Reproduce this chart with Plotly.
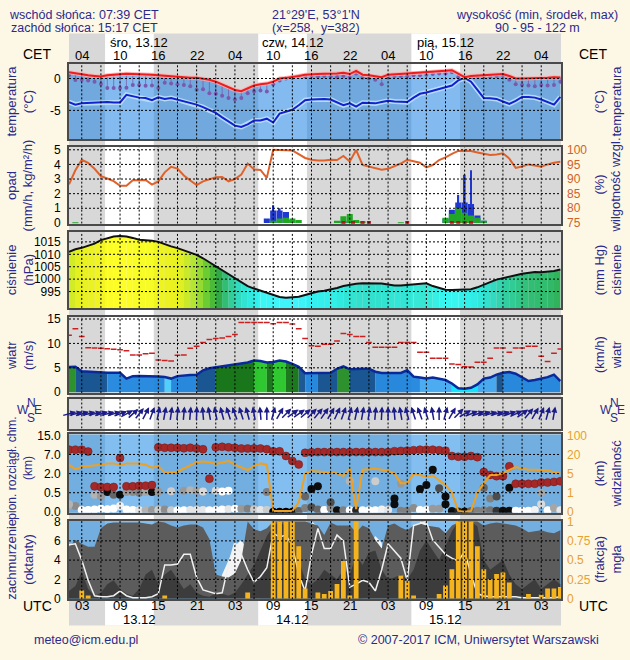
import numpy as np
import plotly.graph_objects as go
from plotly.colors import sample_colorscale

# ---------------------------------------------------------------- data
hours = list(range(1, 79))          # hours since 13.12 00 UTC

temperature = [1.0, 0.8, 0.6, 0.5, 0.4, 0.3, 0.5, 0.6, 0.7, 0.75,
               0.7, 0.7, 0.6, 0.6, 0.5, 0.4, 0.3, 0.2, 0.2, 0.1,
               0.1, 0.0, -0.2, -0.5, -0.9, -1.3, -1.8, -2.0, -1.6, -1.1,
               -0.9, -0.8, -0.5, 0.0, 0.1, 0.2, 0.4, 0.6, 0.7, 0.7,
               0.75, 0.75, 0.8, 0.9, 0.7, 1.2, 0.6, 0.5, 0.35, 0.2,
               0.6, 0.7, 0.75, 0.8, 0.85, 0.9, 1.0, 1.05, 1.1, 1.2,
               1.3, 0.8, 0.2, 0.4, 0.45, 0.5, 0.5, 0.6, 0.7, 0.4,
               0.0, 0.0, 0.0, 0.0, 0.0, 0.1, 0.2, 0.15]
dew_point = [-3.7, -4.1, -3.9, -3.85, -3.8, -3.7, -3.7, -3.75, -3.75, -2.55,
             -2.8, -3.0, -3.05, -3.4, -2.95, -3.2, -3.05, -3.3, -3.6, -3.8,
             -4.1, -4.5, -5.0, -5.4, -6.1, -6.8, -7.4, -7.6, -7.2, -6.6,
             -6.6, -6.3, -6.9, -5.5, -5.2, -4.9, -4.2, -3.4, -3.3, -3.25,
             -3.2, -3.3, -3.8, -4.2, -3.9, -4.4, -3.8, -3.9, -3.9, -3.7,
             -3.5, -3.6, -3.7, -3.7, -3.0, -2.4, -2.2, -1.9, -1.6, -1.4,
             -1.1, -0.3, 0.1, -0.5, -1.8, -3.05, -3.1, -3.2, -3.6, -4.0,
             -3.5, -2.9, -2.9, -3.0, -3.3, -3.7, -4.1, -2.9]
perceived_temp = [0.5, -0.25, -0.2, -0.3, -0.5, -0.85, -1.5, -1.5, -1.5, -1.45,
                  -1.0, -1.0, -1.15, -1.1, -1.5, -0.65, -0.8, -0.9, -1.0, -1.2,
                  -1.75, -1.7, -2.3, -2.4, -2.7, -3.05, -3.3, -3.05, -2.3, -2.0,
                  -1.9, -2.05, -0.9, -0.3, 0.0, 0.1, 0.3, 0.3, 0.4, 0.3,
                  0.4, 0.3, 0.2, 0.4, 0.1, 0.8, 0.1, 0.0, -0.2, -0.9,
                  0.3, 0.4, 0.4, 0.4, 0.5, 0.5, 0.6, 0.7, 0.8, 0.8,
                  1.0, 0.2, 0.0, 0.2, 0.3, 0.4, 0.3, 0.4, 0.5, -0.2,
                  -0.9, -1.0, -1.1, -1.2, -1.0, -1.1, -1.0, -0.5]

humidity = [88.2, 93.0, 96.6, 95.5, 93.5, 91.0, 90.2, 89.3, 87.7, 87.7,
            89.6, 89.7, 89.7, 88.1, 89.2, 92.3, 94.2, 93.6, 91.2, 89.5,
            87.9, 89.2, 89.9, 90.6, 90.7, 89.2, 90.0, 91.5, 95.3, 93.3,
            93.1, 90.4, 100, 100, 100, 99.8, 98.5, 97.2, 96.6, 96.3,
            96.3, 96.6, 96.5, 97.9, 96.0, 99.9, 94.8, 94.2, 93.8, 93.2,
            93.5, 94.5, 95.3, 96.6, 96.2, 95.6, 94.0, 94.8, 96.5, 97.4,
            98.6, 99.6, 99.7, 99.6, 99.1, 98.6, 98.2, 98.4, 98.8, 97.0,
            93.8, 94.3, 95.0, 94.6, 94.2, 95.0, 95.6, 95.9]
precip_blue_hours = [32, 33, 34, 35, 36, 44, 45, 60, 61, 62, 63, 64, 65, 66]
precip_blue = [0.3, 0.85, 0.85, 0.75, 0.2, 0.1, 0.15, 0.3, 0.9, 1.4, 1.4, 1.3, 0.5, 0.15]
precip_peak_hours = [33, 34, 62, 63, 64]
precip_peak = [1.2, 1.0, 1.9, 3.3, 3.6]
precip_green_hours = [2, 33, 34, 35, 36, 37, 43, 44, 45, 46, 47, 53,
                      60, 61, 62, 63, 64, 65, 66]
precip_green = [0.05, 0.15, 0.3, 0.35, 0.3, 0.2, 0.15, 0.45, 0.6, 0.2, 0.1, 0.05,
                0.35, 0.6, 1.0, 0.7, 0.5, 0.35, 0.15]
snow_hours = [44, 45.5, 47, 48, 54, 61, 62, 63, 64]

pressure = [1011.0, 1012.0, 1012.6, 1013.3, 1014.3, 1015.7, 1016.4, 1017.2, 1017.4, 1017.2,
            1016.6, 1015.9, 1015.7, 1015.5, 1015.0, 1014.0, 1013.2, 1012.5, 1011.6, 1010.8,
            1009.8, 1008.4, 1006.8, 1005.3, 1003.6, 1001.9, 1000.2, 998.6, 997.2, 996.2,
            995.3, 994.4, 993.4, 992.8, 992.5, 992.6, 992.9, 993.6, 994.3, 995.0,
            995.3, 995.7, 996.4, 997.2, 997.8, 998.1, 998.3, 998.3, 998.3, 998.2,
            997.8, 997.4, 997.4, 997.6, 997.9, 998.1, 998.3, 997.2, 996.3, 995.7,
            995.6, 995.6, 995.7, 995.9, 996.7, 997.6, 998.8, 999.8, 1000.5, 1001.1,
            1001.6, 1002.2, 1002.7, 1002.9, 1002.8, 1002.9, 1003.3, 1003.9]

wind = [5.15, 5.2, 4.3, 4.2, 4.15, 4.0, 4.0, 4.0, 4.0, 2.8,
        3.3, 3.35, 3.35, 3.35, 3.2, 3.1, 2.8, 3.3, 3.5, 3.55,
        3.6, 4.5, 4.9, 5.1, 5.3, 5.4, 5.6, 5.8, 6.1, 6.5,
        6.4, 6.1, 6.2, 6.5, 6.3, 5.8, 5.2, 3.9, 3.9, 4.0,
        4.0, 4.0, 4.8, 5.3, 4.7, 4.8, 4.8, 4.8, 4.2, 3.95,
        3.95, 3.95, 3.95, 4.5, 3.2, 3.0, 2.8, 3.0, 2.8, 2.5,
        1.8, 0.8, 0.7, 0.9, 1.6, 2.8, 3.0, 3.6, 4.0, 4.15,
        3.8, 3.0, 2.3, 2.5, 2.8, 3.1, 3.6, 2.3]
gusts = [11.65, 13.0, 11.4, 9.1, 9.05, 9.0, 8.9, 8.8, 8.7, 8.5,
         7.65, 7.65, 7.9, 8.0, 6.6, 6.5, 6.4, 7.6, 7.65, 9.0,
         9.4, 10.2, 10.8, 11.0, 11.1, 11.4, 11.85, 14.3, 14.3, 14.3,
         14.3, 14.3, 14.05, 14.3, 14.3, 14.0, 13.0, 11.0, 9.5, 9.4,
         9.85, 9.85, 10.5, 12.05, 11.85, 11.4, 11.4, 10.2, 9.2, 9.2,
         9.2, 9.2, 10.2, 10.2, 10.2, 8.2, 8.2, 6.95, 6.95, 6.95,
         5.8, 5.7, 5.2, 5.15, 6.15, 6.15, 6.95, 9.05, 9.05, 8.2,
         9.05, 9.05, 9.4, 9.4, 7.35, 6.3, 8.0, 8.85]
wind_class = ['g', 'db', 'db', 'db', 'db', 'db', 'b', 'b', 'b', 'b',
              'b', 'b', 'b', 'b', 'b', 'lc', 'b', 'b', 'b', 'b',
              'db', 'db', 'db', 'dg', 'dg', 'dg', 'dg', 'dg', 'dg', 'bg',
              'bg', 'dg', 'bg', 'bg', 'dg', 'dg', 'db', 'b', 'b', 'db',
              'db', 'db', 'g', 'g', 'db', 'db', 'db', 'db', 'b', 'b',
              'b', 'b', 'b', 'b', 'b', 'lb', 'lb', 'lb', 'lb', 'lb',
              'c', 'c', 'c', 'c', 'lb', 'lb', 'lb', 'db', 'b', 'b',
              'b', 'b', 'b', 'b', 'b', 'b', 'b', 'b']
wind_dir = [75, 75, 74, 76, 75, 74, 75, 73, 70, 62,
            48, 38, 28, 20, 12, 10, 8, 6, 5, 5,
            2, 355, 350, 348, 345, 342, 340, 342, 345, 350,
            355, 0, 15, 30, 45, 55, 55, 50, 45, 40,
            35, 30, 25, 20, 15, 12, 10, 8, 5, 3,
            0, 355, 350, 345, 342, 340, 343, 350, 0, 15,
            30, 45, 60, 68, 72, 74, 75, 75, 74, 72,
            65, 55, 40, 30, 22, 15, 10, 5]

cloud_top_km = [9, 9, 9, 8.2, 1.0, 0.95, 0.95, 0.95, 6.1, 1.0,
                1.0, 1.05, 1.05, 1.1, 10, 9.8, 9.8, 9.8, 9.6, 9.8,
                9.5, 9.2, 1.6, 10, 10.2, 10, 9.8, 9.5, 9.5, 9.5,
                9.5, 9.2, 8.3, 8.3, 6.6, 5.3, 4.4, 7.7, 7.9, 8.0,
                8, 8, 8, 8, 8, 8, 8, 8, 8, 8,
                8, 8.4, 8.5, 8.6, 8.8, 9, 9, 9, 8.8, 8.6,
                6.6, 6.4, 6.4, 6.6, 6.3, 2.4, 1.9, 1.8, 1.8, 3.9,
                1.2, 1.2, 1.2, 1.2, 1.3, 1.3, 1.35, 1.4]
low_layer_km = [0.15, 0.15, 0.05, 0.05, 0.06, 0.08, 0.07, 0.09, 0.15, 0.06,
                0.05, 0.04, 0.04, 0.05, 0.05, 0.06, 0.04, 0.04, 0.04, 0.05,
                0.05, 0.05, 0.04, 0.05, 0.06, 0.07, 0.08, 0.08, 0.08, 0.06,
                0.05, 0.05, 0.0, 0.0, 0.0, 0.0, 0.02, 0.1, 0.12, 0.06,
                0.05, 0.1, 0.04, 0.04, 0.04, 0.04, 0.04, 0.04, 0.04, 0.06,
                0.05, 0.2, 0.03, 0.03, 0.1, 0.05, 0.05, 0.08, 0.08, 0.2,
                0.02, 0.01, 0.01, 0.02, 0.03, 0.04, 0.04, 0.03, 0.03, 0.03,
                0.03, 0.03, 0.03, 0.05, 0.2, 0.04, 0.1, 0.04]
low_layer_dark = [0.35, 0.45, 0.0, 0.0, 0.0, 0.0, 0.0, 0.0, 0.05, 0.0,
                  0.0, 0.1, 0.3, 0.4, 0.2, 0.45, 0.2, 0.0, 0.0, 0.1,
                  0.1, 0.1, 0.0, 0.0, 0.0, 0.1, 0.0, 0.4, 0.5, 0.2,
                  0.1, 0.2, 1.0, 1.0, 1.0, 1.0, 0.6, 0.5, 0.7, 0.6,
                  0.0, 0.45, 0.95, 0.5, 0.0, 0.85, 0.0, 0.0, 0.0, 0.05,
                  0.1, 0.95, 0.5, 0.5, 0.45, 0.0, 0.0, 0.4, 0.4, 0.95,
                  0.95, 0.85, 0.95, 0.6, 0.5, 0.5, 0.55, 0.8, 0.95, 0.95,
                  0.0, 0.0, 0.0, 0.05, 0.15, 0.0, 0.35, 0.1]
mid_layer_hours = [1, 5, 6, 7, 8, 9, 10, 11, 12, 13, 14, 15, 17, 19, 20, 21, 22, 24, 25, 26,
                   32, 38, 39, 40, 42, 45, 49, 52, 53, 56, 57, 58, 59, 60, 66, 67, 68, 70, 75]
mid_layer_km = [0.2, 0.45, 0.4, 0.55, 0.45, 0.45, 0.55, 0.55, 0.5, 0.55,
                0.55, 0.6, 0.62, 0.65, 0.7, 0.65, 0.6, 0.65, 0.6, 0.65,
                0.55, 0.4, 0.8, 1.0, 0.25, 1.4, 1.4, 0.35, 1.2, 0.8,
                1.1, 3.0, 0.85, 0.4, 0.9, 0.35, 0.4, 0.9, 0.5]
mid_layer_dark = [0.3, 0.3, 0.4, 0.95, 0.6, 0.95, 0.4, 0.45, 0.5, 0.35,
                  0.95, 0.4, 0.2, 0.4, 0.3, 0.35, 0.15, 0.15, 0.0, 0.0,
                  0.5, 0.6, 0.95, 0.95, 0.7, 0.3, 0.2, 0.95, 0.4, 0.95,
                  0.95, 0.95, 0.7, 0.95, 0.6, 0.5, 0.7, 0.95, 0.35]
visibility_km = [12, 8.3, 10.4, 10.9, 11.5, 12, 13, 13, 11.5, 13,
                 13, 13, 12, 9.7, 10.9, 5.8, 5.8, 6.5, 9, 11.5,
                 14, 14.5, 14, 12.5, 13.5, 14.8, 12, 10, 7.8, 11,
                 13, 12, 0.05, 0.05, 0.05, 0.05, 0.5, 5, 7.1, 6.8,
                 6.5, 5.8, 5.2, 4.5, 8.9, 0.14, 8.0, 8.4, 8.8, 8.0,
                 7.1, 5.0, 3.0, 3.0, 5.0, 4.7, 4.3, 4.6, 3.5, 2.6,
                 1.0, 0.05, 0.0, 0.05, 1.0, 3.0, 4.7, 4.7, 5.5, 7.5,
                 10.1, 9, 8, 8, 8, 7.5, 6, 5]
height_ticks_km = [0.0, 0.5, 2.0, 7.0, 15.0]
visibility_ticks_km = [0, 1, 5, 20, 100]

cloud_total = [5.4, 6.1, 5.7, 5.4, 5.4, 7.3, 7.8, 7.9, 7.9, 7.9,
               7.9, 7.9, 7.8, 7.7, 8, 7.9, 7.6, 7.4, 7.6, 7.7,
               7.7, 7.4, 6.2, 2.5, 2.3, 2.2, 2.6, 4.0, 8.0, 7.2,
               7.0, 7.3, 8, 8, 8, 8, 8, 8, 7.8, 7.6,
               6.6, 7.9, 7.6, 7.6, 7.6, 6.9, 7.6, 7.3, 6.1, 5.2,
               7.6, 7.8, 7.4, 7.1, 7.6, 7.8, 7.6, 7.5, 7.4, 6.8,
               7.6, 7.9, 8, 8, 8, 7.6, 7.8, 7.9, 7.8, 7.7,
               7.6, 7.3, 6.9, 7.0, 7.1, 6.9, 6.8, 7.1]
cloud_low = [0.8, 1.3, 2.8, 1.0, 0.3, 0.6, 1.5, 1.9, 1.0, 0.5,
             0.3, 1.0, 2.5, 3.0, 1.5, 2.5, 3.0, 2.0, 1.0, 1.5,
             0.6, 0.3, 0.2, 0.5, 0.5, 0.3, 0.6, 1.5, 2.5, 3.5,
             5.0, 6.5, 7.5, 8.0, 7.5, 5.0, 4.0, 2.0, 1.5, 2.0,
             3.0, 2.5, 2.0, 3.0, 2.5, 4.5, 3.5, 4.8, 5.0, 3.0,
             2.0, 2.2, 2.5, 2.0, 3.0, 5.0, 6.0, 5.0, 4.0, 5.5,
             7.0, 8.0, 8.0, 8.0, 7.5, 4.0, 3.0, 3.5, 4.0, 2.5,
             1.5, 1.0, 1.5, 2.0, 1.0, 1.5, 2.0, 1.5]
cloud_high = [0, 0, 0, 0, 0, 0, 0, 0, 0, 0,
              0, 0, 0, 0, 0, 0, 0, 0, 0, 0,
              0, 0, 0, 0, 2.5, 4.0, 5.5, 6.1, 5.0, 2.0,
              0, 0, 0, 0, 0, 0, 0, 7.0, 8.0, 7.5,
              0, 0, 0, 0, 0, 0, 0, 5.5, 6.5, 5.8,
              0, 0, 0, 0, 0, 8.0, 7.8, 0, 0, 0,
              0, 0, 0, 0, 0, 0, 0, 0, 0, 0,
              0, 0, 0, 0, 0, 0, 0, 0]
cloud_line = [5.6, 5.7, 4.0, 1.9, 0.3, 0.2, 0.2, 0.3, 0.8, 0.3,
              0.1, 0.1, 0.1, 0.2, 0.5, 3.5, 3.5, 3.6, 4.6, 4.6,
              2.2, 0.9, 0.7, 0.5, 0.6, 3.5, 5.9, 4.6, 3.0, 1.7,
              2.3, 3.2, 6.8, 6.4, 6.6, 5.5, 2.5, 0.8, 4.6, 7.3,
              5.2, 5.2, 6.6, 6.0, 1.2, 1.5, 1.9, 1.7, 0.8, 3.0,
              5.7, 5.0, 4.2, 1.9, 7.6, 7.8, 8.0, 6.1, 5.3, 4.6,
              4.2, 3.9, 4.9, 2.5, 0.5, 0.3, 0.2, 0.2, 0.2, 0.2,
              0.2, 0.1, 0.1, 0.1, 0.1, 0.1, 0.1, 0.2]
fog = [0, 0, 0.105, 0.04, 0, 0, 0, 0, 0, 0,
       0, 0, 0, 0, 0, 0.04, 0, 0, 0, 0,
       0, 0, 0, 0, 0, 0, 0, 0, 0.08, 0,
       0, 0, 1.0, 1.0, 1.0, 1.0, 0.68, 0.13, 0, 0.08,
       0.06, 0.1, 0.19, 0.49, 0.04, 1.0, 0, 0, 0, 0,
       0, 0, 0.3, 0.23, 0.04, 0, 0, 0, 0.06, 0.17,
       0.38, 1.0, 1.0, 1.0, 0.68, 0.38, 0.25, 0.32, 0.34, 0.21,
       0, 0, 0.06, 0, 0.05, 0.13, 0.13, 0.15]

sunrise_cet, sunset_cet = "07:39", "15:17"
header_left = ["wschód słońca: 07:39 CET", "zachód słońca: 15:17 CET"]
header_mid = ["21°29'E, 53°1'N", "(x=258,  y=382)"]
header_right = ["wysokość (min, środek, max)", "90 - 95 - 122 m"]
day_labels_top = ["śro, 13.12", "czw, 14.12", "pią, 15.12"]
day_labels_bottom = ["13.12", "14.12", "15.12"]
footer_left = "meteo@icm.edu.pl"
footer_right = "© 2007-2017 ICM, Uniwersytet Warszawski"

# ---------------------------------------------------------------- layout geometry
W, H = 630, 660
PX0, PX1 = 69, 561
XR = [1.0, 78.1]
BG = "#fdf8e6"
NIGHT = "#d8d8d8"
FRAME = "#4a4a4a"
NAVY = "#2a2a8c"
FONT = "Liberation Sans, Arial, sans-serif"


def xp(px):
    return px / W


def yp(px):
    return 1 - px / H


def hx(h):  # hour -> paper x
    return xp(PX0 + (h - XR[0]) / (XR[1] - XR[0]) * (PX1 - PX0))


PANELS = [
    (59, 136, [-9.54, 2.3]),
    (144, 222, [-0.05, 5.18]),
    (231, 308, [988.4, 1018.8]),
    (317, 395, [-0.2, 15.46]),
    (401, 431, [-1, 1]),
    (437, 517, [-0.05, 4.05]),
    (525, 605, [-0.05, 8.1]),
]


def ax(i):
    return ("x" if i == 1 else f"x{i}", "y" if i == 1 else f"y{i}")


fig = go.Figure()


def add(tr, i, yname=None):
    xn, yn = ax(i)
    tr.update(xaxis=xn, yaxis=yname or yn, showlegend=False, hoverinfo="skip")
    fig.add_trace(tr)


# ---------------- panel 1 : temperature
trng = PANELS[0][2]
add(go.Scatter(x=hours, y=[trng[0]] * len(hours), mode="lines", line=dict(width=0)), 1)
add(go.Scatter(x=hours, y=temperature, mode="lines", line=dict(width=0),
               fill="tonexty", fillcolor="rgba(30,130,225,0.55)"), 1)
add(go.Scatter(x=hours, y=dew_point, mode="lines",
               line=dict(color="rgba(190,225,255,0.9)", width=5)), 1)
add(go.Scatter(x=hours, y=dew_point, mode="lines", line=dict(color="#1222cc", width=2)), 1)
sx, sy = [], []
for h, t, p in zip(hours, temperature, perceived_temp):
    sx += [h, h, None]
    sy += [t, p, None]
add(go.Scatter(x=sx, y=sy, mode="lines", line=dict(color="rgba(120,85,170,0.7)", width=1)), 1)
add(go.Scatter(x=hours, y=perceived_temp, mode="markers",
               marker=dict(color="#7a5aae", size=4)), 1)
add(go.Scatter(x=hours, y=temperature, mode="lines",
               line=dict(color="rgba(255,170,170,0.8)", width=4)), 1)
add(go.Scatter(x=hours, y=temperature, mode="lines", line=dict(color="#ee1c1c", width=2)), 1)

# ---------------- panel 2 : precipitation + humidity
add(go.Bar(x=precip_blue_hours, y=precip_blue, width=0.95, marker=dict(color="#2038d0", line=dict(width=0))), 2)
add(go.Bar(x=precip_peak_hours, y=precip_peak, width=0.3, marker=dict(color="#2038d0", line=dict(width=0))), 2)
add(go.Bar(x=precip_green_hours, y=precip_green, width=0.95, marker=dict(color="#20a825", line=dict(width=0))), 2)
add(go.Scatter(x=snow_hours, y=[0] * len(snow_hours), mode="markers",
               marker=dict(color="#b01818", size=4, symbol="square")), 2)
add(go.Scatter(x=hours, y=humidity, mode="lines", line=dict(color="#e0622a", width=2)), 2, "y9")

# ---------------- panel 3 : pressure
PRESS_SCALE = [[0.0, "rgb(40,235,255)"], [0.2, "rgb(20,245,240)"], [0.33, "rgb(20,220,190)"],
               [0.43, "rgb(20,195,120)"], [0.52, "rgb(20,160,40)"], [0.62, "rgb(80,200,20)"],
               [0.72, "rgb(170,230,20)"], [0.8, "rgb(235,245,0)"], [1.0, "rgb(255,255,0)"]]
PMIN, PMAX = 990.0, 1018.0
for i in range(len(hours) - 1):
    pm = (pressure[i] + pressure[i + 1]) / 2
    c = sample_colorscale(PRESS_SCALE, [(pm - PMIN) / (PMAX - PMIN)])[0]
    c = c.replace("rgb(", "rgba(").replace(")", ",0.85)")
    add(go.Scatter(x=hours[i:i + 2], y=pressure[i:i + 2], mode="lines",
                   line=dict(width=0), fill="tozeroy", fillcolor=c), 3)
add(go.Scatter(x=hours, y=pressure, mode="lines", line=dict(color="#111111", width=2)), 3)

# ---------------- panel 4 : wind
WIND_COL = {"g": "rgba(30,140,30,0.92)", "dg": "rgba(10,110,10,0.92)", "bg": "rgba(30,195,30,0.92)",
            "db": "rgba(10,75,140,0.92)", "b": "rgba(25,130,220,0.92)", "lb": "rgba(60,165,240,0.92)",
            "lc": "rgba(70,205,255,0.92)", "c": "rgba(0,230,255,0.92)"}
start = 0
for i in range(1, len(hours)):
    if i == len(hours) - 1 or wind_class[i] != wind_class[start]:
        end = i
        add(go.Scatter(x=hours[start:end + 1], y=wind[start:end + 1], mode="lines",
                       line=dict(width=0), fill="tozeroy",
                       fillcolor=WIND_COL[wind_class[start]]), 4)
        start = i
gx, gy = [], []
for h, g in zip(hours, gusts):
    gx += [h - 0.45, h + 0.45, None]
    gy += [g, g, None]
add(go.Scatter(x=gx, y=gy, mode="lines", line=dict(color="#cc2020", width=1.5)), 4)
add(go.Scatter(x=hours, y=wind, mode="lines", line=dict(color="#0a2a9a", width=2.5)), 4)

# ---------------- panel 6 : cloud levels + visibility
def hpos(v):
    return np.interp(v, height_ticks_km, [0, 1, 2, 3, 4])


GRAY = [[0, "#ffffff"], [1, "#000000"]]
add(go.Scatter(x=hours, y=hpos(low_layer_km), mode="markers",
               marker=dict(size=8, color=low_layer_dark, colorscale=GRAY, cmin=0, cmax=1)), 6)
add(go.Scatter(x=mid_layer_hours, y=hpos(mid_layer_km), mode="markers",
               marker=dict(size=8, color=mid_layer_dark, colorscale=GRAY, cmin=0, cmax=1)), 6)
add(go.Scatter(x=hours, y=hpos(cloud_top_km), mode="markers",
               marker=dict(size=8, color="#a52828", line=dict(width=0.5, color="#701818"))), 6)
add(go.Scatter(x=hours, y=np.interp(visibility_km, visibility_ticks_km, [0, 1, 2, 3, 4]),
               mode="lines", line=dict(color="#f0a020", width=2)), 6, "y12")

# ---------------- panel 7 : cloud cover + fog
add(go.Scatter(x=hours, y=cloud_high, mode="lines", line=dict(width=0),
               fill="tozeroy", fillcolor="#f4f4f4"), 7)
add(go.Scatter(x=hours, y=cloud_total, mode="lines", line=dict(width=0),
               fill="tozeroy", fillcolor="#5c5c5c"), 7)
add(go.Scatter(x=hours, y=cloud_low, mode="lines", line=dict(width=0),
               fill="tozeroy", fillcolor="#3c3c3c"), 7)
add(go.Scatter(x=hours, y=cloud_line, mode="lines", line=dict(color="#f0f0f0", width=1.5)), 7)
add(go.Bar(x=hours, y=fog, width=0.75, marker=dict(color="#f5b41e", line=dict(width=0))), 7, "y13")

# ---------------- grids (on top)
GRID_H = list(range(3, 78, 3))
grid_spec = {1: ("y", PANELS[0][2], [0, -5]),
             2: ("y9", [74.75, 100.9], [80, 85, 90, 95, 100]),
             3: ("y3", PANELS[2][2], [995, 1000, 1005, 1010, 1015]),
             4: ("y4", PANELS[3][2], [5, 10, 15]),
             5: ("y5", PANELS[4][2], []),
             6: ("y12", PANELS[5][2], [1, 2, 3]),
             7: ("y13", [-0.05 / 8, 8.1 / 8], [0.25, 0.5, 0.75])}
for i, (yn, yr, hv) in grid_spec.items():
    xs, ys = [], []
    for g in GRID_H:
        xs += [g, g, None]
        ys += [yr[0], yr[1], None]
    for v in hv:
        xs += [XR[0], XR[1], None]
        ys += [v, v, None]
    add(go.Scatter(x=xs, y=ys, mode="lines",
                   line=dict(color="black", width=1, dash="2px,2px")), i, yn)

# ---------------- axes
layout = dict(width=W, height=H, margin=dict(l=0, r=0, t=0, b=0), autosize=False,
              paper_bgcolor=BG, plot_bgcolor="rgba(0,0,0,0)", showlegend=False,
              barmode="overlay", font=dict(family=FONT, size=12, color="black"))
left_ticks = {1: ([0, -5], ["0", "-5"]),
              2: ([0, 1, 2, 3, 4, 5], ["0", "1", "2", "3", "4", "5"]),
              3: ([995, 1000, 1005, 1010, 1015], ["995", "1000", "1005", "1010", "1015"]),
              4: ([0, 5, 10, 15], ["0", "5", "10", "15"]),
              5: ([], []),
              6: ([0, 1, 2, 3, 4], [f"{v:.1f}" for v in height_ticks_km]),
              7: ([0, 2, 4, 6, 8], ["0", "2", "4", "6", "8"])}
for i, (top, bot, rng) in enumerate(PANELS, start=1):
    xn, yn = ax(i)
    layout["xaxis" if i == 1 else f"xaxis{i}"] = dict(
        domain=[xp(PX0), xp(PX1)], range=XR, anchor=yn, showticklabels=False,
        showgrid=False, zeroline=False, showline=True, mirror=True,
        linecolor=FRAME, linewidth=2, ticks="", fixedrange=True)
    tv, tt = left_ticks[i]
    layout["yaxis" if i == 1 else f"yaxis{i}"] = dict(
        domain=[yp(bot), yp(top)], range=rng, anchor=xn, showgrid=False, zeroline=False,
        showline=True, mirror=True, linecolor=FRAME, linewidth=2, ticks="",
        tickvals=tv, ticktext=tt, showticklabels=bool(tv), ticklabelstandoff=4,
        tickfont=dict(size=12, color="black"), fixedrange=True)


def overlay(name, base, xn, rng, tv, tt, color="black"):
    layout[name] = dict(overlaying=base, anchor=xn, side="right", range=rng,
                        showgrid=False, zeroline=False, showline=False, ticks="",
                        tickvals=tv, ticktext=tt, ticklabelstandoff=5,
                        tickfont=dict(size=12, color=color), fixedrange=True)


overlay("yaxis8", "y", "x", PANELS[0][2], [0, -5], ["0", "-5"])
overlay("yaxis9", "y2", "x2", [74.75, 100.9], [75, 80, 85, 90, 95, 100],
        ["75", "80", "85", "90", "95", "100"], "#d2602a")
overlay("yaxis10", "y3", "x3", PANELS[2][2], [995, 1000, 1005, 1010, 1015],
        [str(round(v * 0.750062)) for v in [995, 1000, 1005, 1010, 1015]])
overlay("yaxis11", "y4", "x4", PANELS[3][2], [0, 5, 10, 15],
        [str(round(v * 3.6)) for v in [0, 5, 10, 15]])
overlay("yaxis12", "y6", "x6", PANELS[5][2], [0, 1, 2, 3, 4],
        [str(v) for v in visibility_ticks_km], "#e8a030")
overlay("yaxis13", "y7", "x7", [-0.05 / 8, 8.1 / 8], [0, 0.25, 0.5, 0.75, 1],
        ["0", "0.25", "0.5", "0.75", "1"], "#e8a030")

# ---------------- background bands
def hm(s):
    a, b = s.split(":")
    return int(a) + int(b) / 60 - 1  # CET -> UTC


sr, ss = hm(sunrise_cet), hm(sunset_cet)
shapes = [dict(type="rect", xref="paper", yref="paper", x0=hx(XR[0]), x1=hx(XR[1]),
               y0=yp(632), y1=yp(28), fillcolor=NIGHT, line=dict(width=0), layer="below")]
for d in range(3):
    shapes.append(dict(type="rect", xref="paper", yref="paper",
                       x0=hx(sr + 24 * d), x1=hx(ss + 24 * d), y0=yp(632), y1=yp(28),
                       fillcolor="white", line=dict(width=0), layer="below"))
for i in (6, 7):
    top, bot, _ = PANELS[i - 1]
    shapes.append(dict(type="rect", xref="paper", yref="paper", x0=xp(PX0), x1=xp(PX1),
                       y0=yp(bot), y1=yp(top), fillcolor="rgba(40,145,230,0.58)",
                       line=dict(width=0), layer="below"))
layout["shapes"] = shapes

# ---------------- annotations
ann = []


def txt(text, x, y, size=12, color=NAVY, xanchor="center", angle=0):
    ann.append(dict(text=text, x=x, y=y, xref="paper", yref="paper", showarrow=False,
                    xanchor=xanchor, yanchor="middle", textangle=angle,
                    font=dict(family=FONT, size=size, color=color)))


txt(header_left[0], xp(84), yp(9), 12.5)
txt(header_left[1], xp(84), yp(22), 12.5)
txt(header_mid[0], xp(316), yp(9), 12.5)
txt(header_mid[1], xp(316), yp(22), 12.5)
txt(header_right[0], xp(537), yp(9), 12.5)
txt(header_right[1], xp(537), yp(22), 12.5)
txt(footer_left, xp(86), yp(647), 12.5)
txt(footer_right, xp(478), yp(647), 12.5)

txt("CET", xp(37), yp(49), 14, "black")
txt("CET", xp(593), yp(49), 14, "black")
txt("UTC", xp(37), yp(612), 14, "black")
txt("UTC", xp(593), yp(612), 14, "black")
for h in GRID_H[::2]:
    txt(f"{(h + 1) % 24:02d}", hx(h), yp(50), 13, "black")
    txt(f"{h % 24:02d}", hx(h), yp(612), 13, "black")
for d in range(3):
    txt(day_labels_top[d], hx(12 + 24 * d), yp(37), 13, "black")
    txt(day_labels_bottom[d], hx(12 + 24 * d), yp(626), 13, "black")

left_titles = ["temperatura<br>(°C)", "opad<br>(mm/h, kg/m²/h)", "ciśnienie<br>(hPa)",
               "wiatr<br>(m/s)", None, "pion. rozciągł. chm.<br>(km)", "zachmurzenie<br>(oktanty)"]
right_titles = ["(°C)<br>temperatura", "(%)<br>wilgotność wzgl.", "(mm Hg)<br>ciśnienie",
                "(km/h)<br>wiatr", None, "(km)<br>widzialność", "(frakcja)<br>mgła"]
title_size = [13, 13, 13, 13, 13, 12, 13]
title_shift = [0, 0, 0, 0, 0, -5, 0]
for (top, bot, _), lt, rt, ts, sh in zip(PANELS, left_titles, right_titles, title_size, title_shift):
    if lt:
        txt(lt, xp(20), yp((top + bot) / 2 + sh), ts, NAVY, angle=-90)
        txt(rt, xp(608), yp((top + bot) / 2), 13, NAVY, angle=-90)
for cx in (29, 612):
    txt("N", xp(cx + 2), yp(405), 12)
    txt("W", xp(cx - 6), yp(412), 12)
    txt("E", xp(cx + 9), yp(412), 12)
    txt("S", xp(cx + 2), yp(420), 12)

# wind direction arrows
pxh = (PX1 - PX0) / (XR[1] - XR[0])
top5, bot5, r5 = PANELS[4]
pxy = (bot5 - top5) / (r5[1] - r5[0])
L = 15
for h, d in zip(hours, wind_dir):
    th = np.radians(d)
    hx_px, hy_px = L / 2 * np.sin(th), L / 2 * np.cos(th)
    ann.append(dict(x=h + hx_px / pxh, y=hy_px / pxy, xref="x5", yref="y5", text="",
                    showarrow=True, axref="pixel", ayref="pixel",
                    ax=-L * np.sin(th), ay=L * np.cos(th),
                    arrowhead=2, arrowsize=0.8, arrowwidth=1.5, arrowcolor="#1c1c88",
                    standoff=0))
layout["annotations"] = ann

fig.update_layout(**layout)
fig.write_html("out.html", config={"displayModeBar": False, "responsive": False},
               post_script=(
                   "var de=document.documentElement, b=document.body;"
                   "de.style.margin='0';de.style.padding='0';de.style.height='660px';de.style.overflow='hidden';"
                   "b.style.margin='0';b.style.padding='0';b.style.height='660px';b.style.overflow='hidden';"
                   "b.style.background='#fdf8e6';"
                   "var gd=document.getElementById('{plot_id}');"
                   "gd.style.position='fixed';gd.style.left='0px';gd.style.top='0px';"))
